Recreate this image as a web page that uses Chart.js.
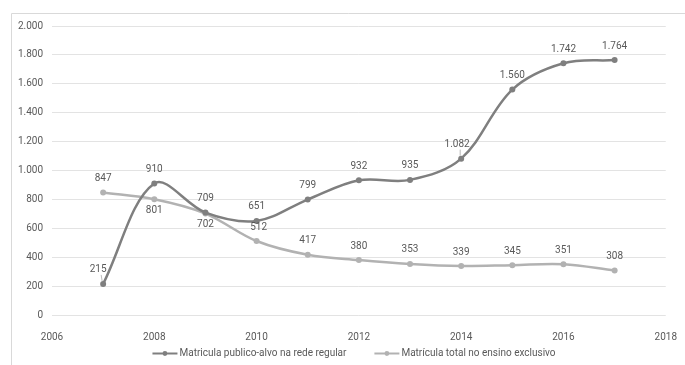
<!DOCTYPE html>
<html>
<head>
<meta charset="utf-8">
<script src="https://cdn.jsdelivr.net/npm/chart.js@4.4.1/dist/chart.umd.min.js"></script>
<style>
  html, body { margin: 0; padding: 0; background: #fff; }
  #wrap { width: 685px; height: 365px; }
</style>
</head>
<body>
<div id="wrap"><canvas id="chart" width="685" height="365"></canvas></div>
<script>
// dados
const anos = [2007, 2008, 2009, 2010, 2011, 2012, 2013, 2014, 2015, 2016, 2017];
const regular = [215, 910, 709, 651, 799, 932, 935, 1082, 1560, 1742, 1764];
const exclusivo = [847, 801, 702, 512, 417, 380, 353, 339, 345, 351, 308];
const rotulos = ["Matricula publico-alvo na rede regular", "Matrícula total no ensino exclusivo"];
const xTicks = [2006, 2008, 2010, 2012, 2014, 2016, 2018];
const yTicks = [0, 200, 400, 600, 800, 1000, 1200, 1400, 1600, 1800, 2000];

// posição dos rótulos: 1 = acima, -1 = abaixo
const posRegular = [1, 1, 1, 1, 1, 1, 1, 1, 1, 1, 1];
const posExclusivo = [1, -1, -1, 1, 1, 1, 1, 1, 1, 1, 1];
// deslocamento horizontal de alguns rótulos (com linha de chamada)
const dxRegular = [-5, 0, 0, 0, 0, 0, 0, -4, 0, 0, 0];
const dxExclusivo = [0, 0, 0, 2, 0, 0, 0, 0, 0, 0, 0];

const FONT = "Roboto, 'Liberation Sans', sans-serif";
const TXT = "#595959";

function fmt(v) {
  return String(v).replace(/\B(?=(\d{3})+(?!\d))/g, ".");
}

// rótulos de dados
const rotuloPlugin = {
  id: "rotulos",
  afterDatasetsDraw(chart) {
    const ctx = chart.ctx;
    ctx.save();
    ctx.font = "10px " + FONT;
    ctx.textAlign = "center";
    ctx.textBaseline = "middle";
    chart.data.datasets.forEach((ds, i) => {
      const meta = chart.getDatasetMeta(i);
      meta.data.forEach((pt, j) => {
        const p = ds.labelPos[j];
        const dx = ds.labelDx[j];
        const dy = p > 0 ? -14 : 11;
        if (dx < -3) {
          // pequena linha de chamada
          ctx.strokeStyle = "#a6a6a6";
          ctx.lineWidth = 0.8;
          ctx.beginPath();
          ctx.moveTo(pt.x + dx + 3, pt.y + dy + 5);
          ctx.lineTo(pt.x - 1, pt.y - 3);
          ctx.stroke();
        }
        ctx.fillStyle = TXT;
        ctx.fillText(fmt(ds.data[j].y), pt.x + dx, pt.y + dy);
      });
    });
    ctx.restore();
  },
};

// moldura e legenda
const molduraPlugin = {
  id: "moldura",
  beforeDraw(chart) {
    const ctx = chart.ctx;
    ctx.save();
    ctx.strokeStyle = "#d9d9d9";
    ctx.lineWidth = 1;
    ctx.beginPath();
    ctx.moveTo(11.5, 365);
    ctx.lineTo(11.5, 13.5);
    ctx.lineTo(685, 13.5);
    ctx.stroke();
    ctx.restore();
  },
  afterDraw(chart) {
    const ctx = chart.ctx;
    ctx.save();
    ctx.font = "10px " + FONT;
    ctx.textBaseline = "middle";
    ctx.textAlign = "left";
    const y = 353;
    const marker = 25, gap = 2, sep = 28;
    const items = chart.data.datasets.map(ds => ({
      text: ds.label, color: ds.borderColor, w: marker + gap + ctx.measureText(ds.label).width,
    }));
    let total = items.reduce((s, it) => s + it.w, 0) + sep * (items.length - 1);
    let x = 354 - total / 2;
    items.forEach(it => {
      ctx.strokeStyle = it.color;
      ctx.lineWidth = 2;
      ctx.beginPath();
      ctx.moveTo(x, y + 0.5);
      ctx.lineTo(x + marker, y + 0.5);
      ctx.stroke();
      ctx.fillStyle = it.color;
      ctx.beginPath();
      ctx.arc(x + marker / 2, y + 0.5, 2.4, 0, Math.PI * 2);
      ctx.fill();
      ctx.fillStyle = TXT;
      ctx.fillText(it.text, x + marker + gap, y);
      x += it.w + sep;
    });
    ctx.restore();
  },
};

const ctx = document.getElementById("chart").getContext("2d");
const grafico = new Chart(ctx, {
  type: "line",
  data: {
    datasets: [
      {
        label: rotulos[0],
        data: anos.map((a, i) => ({ x: a, y: regular[i] })),
        labelPos: posRegular,
        labelDx: dxRegular,
        borderColor: "#7f7f7f",
        backgroundColor: "#7f7f7f",
        pointBackgroundColor: "#7f7f7f",
        pointBorderWidth: 0,
        borderWidth: 2.5,
        pointRadius: 3,
        tension: 0.35,
        fill: false,
      },
      {
        label: rotulos[1],
        data: anos.map((a, i) => ({ x: a, y: exclusivo[i] })),
        labelPos: posExclusivo,
        labelDx: dxExclusivo,
        borderColor: "#b2b2b2",
        backgroundColor: "#b2b2b2",
        pointBackgroundColor: "#b2b2b2",
        pointBorderWidth: 0,
        borderWidth: 2.5,
        pointRadius: 3,
        tension: 0.35,
        fill: false,
      },
    ],
  },
  options: {
    responsive: false,
    animation: false,
    layout: { padding: { left: 0, right: 17, top: 26, bottom: 0 } },
    scales: {
      x: {
        type: "linear",
        min: 2006,
        max: 2018,
        afterBuildTicks: (s) => { s.ticks = xTicks.map(v => ({ value: v })); },
        afterFit: (s) => { s.height = 50; },
        ticks: {
          color: TXT,
          font: { family: FONT, size: 10 },
          padding: 8,
          maxRotation: 0,
          callback: (v) => String(v),
        },
        grid: { display: false },
        border: { display: false },
      },
      y: {
        min: 0,
        max: 2000,
        afterBuildTicks: (s) => { s.ticks = yTicks.map(v => ({ value: v })); },
        afterFit: (s) => { s.width = 52; },
        ticks: {
          color: TXT,
          font: { family: FONT, size: 10 },
          padding: 9,
          callback: (v) => fmt(v),
        },
        grid: { color: "#e3e3e3", lineWidth: 1, drawTicks: false },
        border: { display: false },
      },
    },
    plugins: {
      legend: { display: false },
      tooltip: { enabled: false },
    },
  },
  plugins: [rotuloPlugin, molduraPlugin],
});
</script>
</body>
</html>
